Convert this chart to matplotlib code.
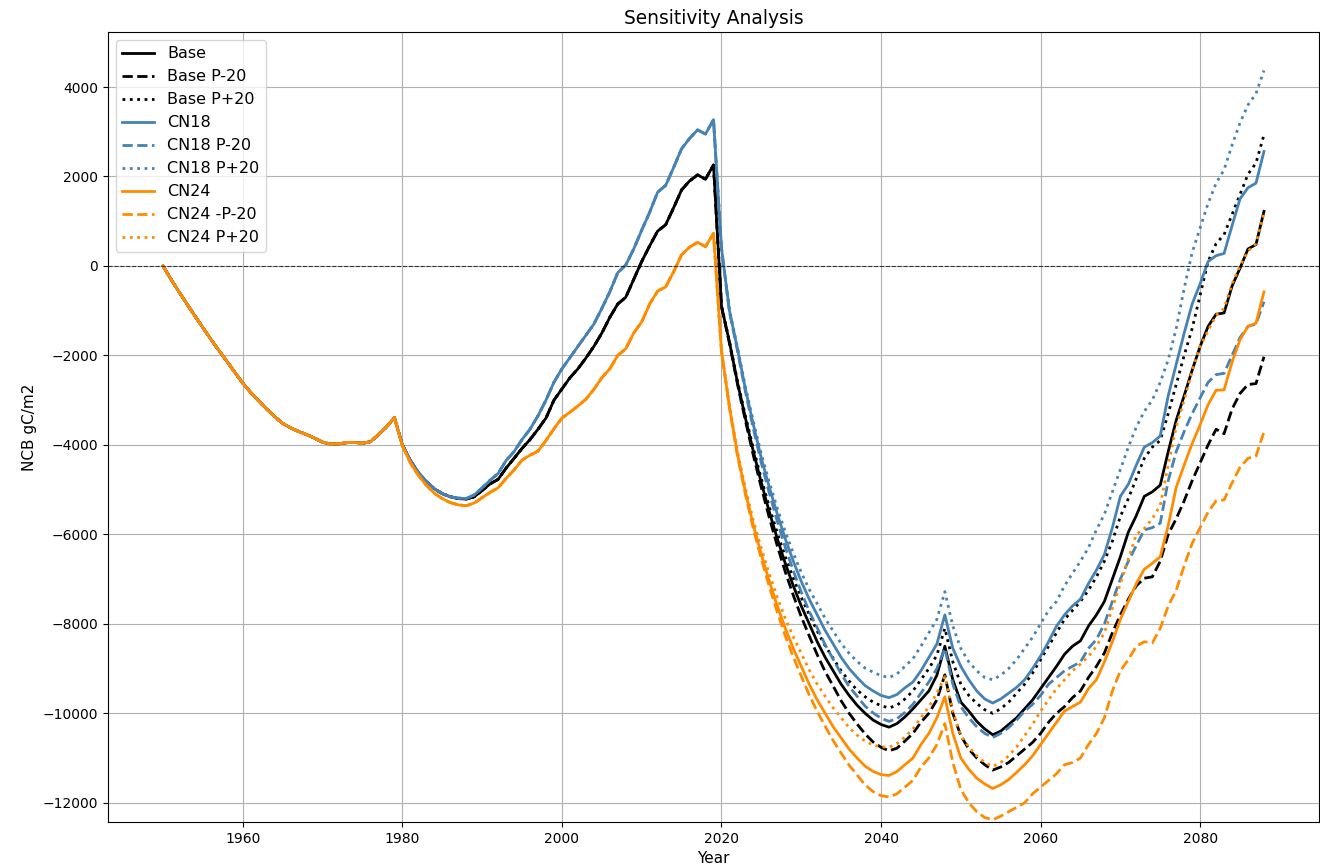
import matplotlib
matplotlib.use("Agg")
import matplotlib.pyplot as plt
import numpy as np

years = np.arange(1950, 2089)

# shared history 1950-1979
hist = [0, -300, -580, -850, -1120, -1380, -1640, -1890, -2130, -2380,
        -2620, -2830, -3020, -3200, -3370, -3520, -3620, -3700, -3770, -3850,
        -3940, -3980, -3975, -3950, -3945, -3965, -3930, -3770, -3600, -3390]

# 1980-2019
base_past = [-4000, -4350, -4620, -4820, -4980, -5090, -5160, -5200, -5210, -5160,
             -5020, -4870, -4770, -4520, -4300, -4080, -3880, -3650, -3400, -3000,
             -2750, -2500, -2300, -2060, -1800, -1500, -1150, -850, -700, -300,
             100, 450, 780, 920, 1300, 1700, 1900, 2035, 1940, 2258]
cn18_past = [-4000, -4350, -4620, -4820, -4980, -5090, -5160, -5190, -5200, -5120,
             -4960, -4790, -4640, -4350, -4150, -3880, -3650, -3350, -3000, -2600,
             -2300, -2050, -1800, -1550, -1300, -950, -580, -150, 20, 380,
             800, 1200, 1650, 1800, 2200, 2620, 2850, 3040, 2950, 3270]
cn24_past = [-4020, -4400, -4680, -4900, -5080, -5200, -5290, -5340, -5360, -5300,
             -5180, -5060, -4960, -4750, -4560, -4340, -4230, -4140, -3900, -3640,
             -3400, -3270, -3130, -2980, -2760, -2500, -2300, -2000, -1850, -1500,
             -1250, -850, -560, -470, -130, 250, 420, 530, 430, 730]

# 2020-2088
base_fut = [-900, -1700, -2600, -3400, -4150, -4850, -5500, -6100, -6650, -7150,
            -7600, -8000, -8400, -8750, -9050, -9350, -9600, -9820, -10000, -10150,
            -10250, -10310, -10230, -10080, -9900, -9700, -9500, -9150, -8500, -9250,
            -9750, -9950, -10180, -10350, -10480, -10400, -10250, -10100, -9900, -9700,
            -9450, -9200, -8950, -8680, -8500, -8380, -8050, -7800, -7500, -7000,
            -6500, -5950, -5580, -5150, -5050, -4900, -4150, -3450, -2900, -2330,
            -1800, -1350, -1080, -1050, -450, -50, 380, 480, 1220]
base_m20 = [-910, -1730, -2640, -3460, -4240, -4960, -5630, -6260, -6840, -7360,
            -7840, -8270, -8690, -9070, -9390, -9720, -10000, -10240, -10460, -10640,
            -10760, -10840, -10780, -10620, -10450, -10200, -10000, -9700, -9140, -10000,
            -10500, -10800, -11000, -11150, -11270, -11200, -11100, -10950, -10800, -10650,
            -10450, -10200, -10000, -9850, -9650, -9500, -9200, -8950, -8650, -8200,
            -7800, -7450, -7150, -6980, -6950, -6600, -6000, -5650, -5250, -4800,
            -4400, -4000, -3650, -3750, -3200, -2850, -2650, -2630, -2030]
base_p20 = [-890, -1680, -2570, -3350, -4080, -4760, -5390, -5970, -6500, -6980,
            -7410, -7790, -8160, -8490, -8770, -9050, -9280, -9480, -9630, -9750,
            -9830, -9880, -9820, -9680, -9500, -9250, -9000, -8700, -8100, -8850,
            -9350, -9600, -9780, -9920, -10000, -9900, -9750, -9550, -9350, -9100,
            -8800, -8500, -8200, -7900, -7700, -7500, -7250, -6950, -6600, -6150,
            -5600, -5200, -4750, -4300, -4050, -3900, -3300, -2650, -2000, -1400,
            -650, 100, 500, 700, 1150, 1600, 2050, 2300, 2930]
cn18_fut = [400, -1000, -1850, -2750, -3550, -4300, -4950, -5550, -6100, -6600,
            -7050, -7450, -7800, -8150, -8450, -8750, -9000, -9200, -9380, -9500,
            -9600, -9650, -9580, -9430, -9300, -9050, -8750, -8450, -7800, -8550,
            -8950, -9250, -9500, -9680, -9770, -9680, -9550, -9420, -9250, -9000,
            -8720, -8400, -8050, -7800, -7600, -7450, -7100, -6800, -6450, -5850,
            -5150, -4880, -4450, -4050, -3950, -3800, -2900, -2200, -1500, -850,
            -400, 100, 230, 280, 900, 1500, 1750, 1850, 2560]
cn18_m20 = [390, -1030, -1890, -2810, -3640, -4410, -5080, -5710, -6290, -6810,
            -7290, -7720, -8090, -8470, -8790, -9120, -9400, -9620, -9840, -9990,
            -10110, -10180, -10120, -9980, -9800, -9550, -9300, -9000, -8550, -9350,
            -9850, -10100, -10300, -10450, -10540, -10450, -10320, -10150, -9950, -9800,
            -9600, -9350, -9200, -9050, -8950, -8850, -8550, -8350, -8000, -7500,
            -7000, -6600, -6250, -5900, -5850, -5750, -4800, -4150, -3700, -3300,
            -2950, -2600, -2430, -2400, -2000, -1600, -1350, -1300, -800]
cn18_p20 = [410, -980, -1810, -2700, -3480, -4210, -4840, -5420, -5940, -6420,
            -6850, -7230, -7550, -7880, -8160, -8440, -8660, -8840, -8990, -9080,
            -9160, -9200, -9120, -8950, -8780, -8500, -8200, -7900, -7280, -8050,
            -8550, -8850, -9050, -9200, -9250, -9150, -9000, -8800, -8550, -8300,
            -8000, -7700, -7500, -7150, -6870, -6600, -6300, -5900, -5550, -5050,
            -4550, -4050, -3600, -3250, -3000, -2600, -2100, -1400, -500, 300,
            850, 1400, 1850, 2150, 2700, 3200, 3600, 3850, 4370]
cn24_fut = [-1900, -3150, -4200, -5050, -5800, -6450, -7050, -7600, -8100, -8550,
            -8950, -9350, -9700, -10000, -10300, -10550, -10800, -11000, -11180, -11300,
            -11370, -11390, -11300, -11150, -11000, -10700, -10450, -10100, -9630, -10450,
            -11000, -11250, -11450, -11580, -11680, -11600, -11480, -11320, -11150, -10950,
            -10700, -10450, -10200, -9950, -9850, -9750, -9450, -9250, -8850, -8400,
            -7900, -7500, -7100, -6780, -6650, -6500, -5800, -4950, -4450, -3970,
            -3550, -3100, -2780, -2770, -2150, -1650, -1350, -1280, -580]
cn24_m20 = [-1910, -3170, -4240, -5110, -5880, -6550, -7170, -7740, -8270, -8740,
            -9170, -9590, -9960, -10290, -10610, -10890, -11160, -11380, -11600, -11750,
            -11840, -11870, -11800, -11650, -11500, -11200, -11000, -10700, -10230, -11100,
            -11700, -12000, -12200, -12330, -12380, -12300, -12200, -12100, -12000, -11800,
            -11650, -11500, -11350, -11150, -11100, -11000, -10700, -10450, -10100, -9500,
            -9050, -8800, -8500, -8400, -8430, -8100, -7600, -7250, -6700, -6200,
            -5850, -5500, -5250, -5230, -4850, -4500, -4300, -4250, -3710]
cn24_p20 = [-1890, -3120, -4150, -4970, -5700, -6320, -6890, -7410, -7880, -8290,
            -8660, -9030, -9350, -9620, -9880, -10100, -10320, -10490, -10620, -10710,
            -10750, -10760, -10680, -10530, -10350, -10100, -9850, -9550, -9180, -9950,
            -10500, -10750, -10950, -11100, -11190, -11100, -10950, -10750, -10500, -10250,
            -9950, -9700, -9450, -9250, -9050, -8900, -8730, -8500, -8200, -7650,
            -7100, -6550, -6000, -5870, -5650, -5350, -4450, -3600, -3000, -2350,
            -1800, -1450, -1100, -950, -400, 0, 330, 500, 1180]

series = [
    ("Base", hist + base_past + base_fut, "black", "-"),
    ("Base P-20", hist + base_past + base_m20, "black", "--"),
    ("Base P+20", hist + base_past + base_p20, "black", ":"),
    ("CN18", hist + cn18_past + cn18_fut, "steelblue", "-"),
    ("CN18 P-20", hist + cn18_past + cn18_m20, "steelblue", "--"),
    ("CN18 P+20", hist + cn18_past + cn18_p20, "steelblue", ":"),
    ("CN24", hist + cn24_past + cn24_fut, "darkorange", "-"),
    ("CN24 -P-20", hist + cn24_past + cn24_m20, "darkorange", "--"),
    ("CN24 P+20", hist + cn24_past + cn24_p20, "darkorange", ":"),
]

fig = plt.figure(figsize=(13.2, 8.67), dpi=100)
ax = fig.add_axes([108 / 1320, 45 / 867, 1211 / 1320, 790 / 867])

for label, vals, color, ls in series:
    ax.plot(years, vals, color=color, linestyle=ls, linewidth=2, label=label)

ax.axhline(0, color="black", linestyle="--", linewidth=0.8, alpha=0.7)
ax.set_ylim(-12430, 5230)
ax.set_title("Sensitivity Analysis", fontsize=13.4)
ax.set_xlabel("Year", fontsize=11)
ax.set_ylabel("NCB gC/m2", fontsize=11)
ax.grid(True)
ax.legend(loc="upper left", fontsize=11.5)

fig.savefig("out.png", dpi=100)
